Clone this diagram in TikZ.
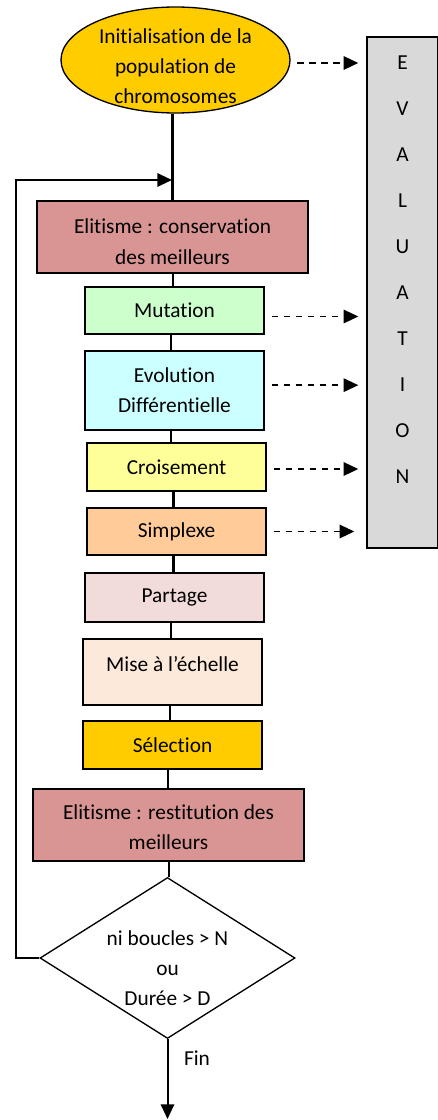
\documentclass[tikz,border=0pt]{standalone}
\usepackage{fontspec}
\setmainfont[Ligatures=NoCommon]{Carlito}
\usetikzlibrary{shapes.geometric,arrows.meta}

\definecolor{gold}{HTML}{FFCC00}
\definecolor{rosy}{HTML}{D99594}
\definecolor{mint}{HTML}{CCFFCC}
\definecolor{sky}{HTML}{CCFFFF}
\definecolor{lemon}{HTML}{FFFF99}
\definecolor{peach}{HTML}{FFCC99}
\definecolor{blush}{HTML}{F2DCDB}
\definecolor{cream}{HTML}{FDE9D9}
\definecolor{evalgray}{HTML}{D9D9D9}

\begin{document}
\begin{tikzpicture}[x=0.75pt,y=-0.75pt,
  font=\fontsize{16}{22.5}\selectfont,
  stepbox/.style={draw,line width=1.5pt,inner sep=0pt,align=center,fill=#1},
  thinshape/.style={draw,line width=1pt,inner sep=0pt,fill=#1},
  link/.style={line width=1.5pt},
  thicklink/.style={line width=2.25pt},
  tip/.style={-{Triangle[length=11pt,width=10pt]}},
  evalarrow/.style={tip,line width=1.4pt,dash pattern=on 5pt off 4pt,
    shorten <=5pt,shorten >=6pt},
  lbl/.style={align=center,inner sep=0pt}]

\useasboundingbox (0,0) rectangle (437,1120);

% evaluation column
\node[thinshape=evalgray,minimum width=53.25pt,minimum height=383.25pt,
  label={[lbl,font=\fontsize{16}{34.5}\selectfont,yshift=17.25pt]center:E\\V\\A\\L\\U\\A\\T\\I\\O\\N}]
  (eval) at (402.5,292.5) {};

% start
\node[thinshape=gold,ellipse,minimum width=171.75pt,minimum height=79.5pt,
  label={[lbl,yshift=-4.5pt]center:Initialisation de la\\population de\\chromosomes}]
  (init) at (175.5,60) {};

% operators
\node[stepbox=rosy,minimum width=203.25pt,minimum height=54pt,
  label={[lbl,yshift=-3.75pt,font=\fontsize{16}{23}\selectfont]center:Elitisme : conservation\\des meilleurs}]
  (elit1) at (172.5,237) {};
\node[stepbox=mint,minimum width=134.25pt,minimum height=35.25pt] (mut) at (174.5,310.5) {Mutation};
\node[stepbox=sky,minimum width=134.25pt,minimum height=59.25pt] (evo) at (174.5,390.5) {Evolution\\Différentielle};
\node[stepbox=lemon,minimum width=134.25pt,minimum height=36pt] (crois) at (176.5,467) {Croisement};
\node[stepbox=peach,minimum width=134.25pt,minimum height=35.25pt] (simp) at (176.5,531.5) {Simplexe};
\node[stepbox=blush,minimum width=134.25pt,minimum height=36.75pt] (part) at (174.5,597.5) {Partage};
\node[stepbox=cream,minimum width=134.25pt,minimum height=49.5pt,
  label={[lbl,yshift=5.6pt]center:Mise à l’échelle}] (mise) at (172.5,672) {};
\node[stepbox=gold,minimum width=134.25pt,minimum height=36pt] (sel) at (172.5,745) {Sélection};
\node[stepbox=rosy,minimum width=203.25pt,minimum height=54pt,
  label={[lbl,yshift=-1.5pt]center:Elitisme : restitution des\\meilleurs}]
  (elit2) at (168.5,825) {};

% stopping test
\node[thinshape=white,diamond,minimum width=191.25pt,minimum height=120.75pt,
  label={[lbl,yshift=-7.5pt]center:ni boucles > N\\ou\\Durée > D}]
  (dec) at (167.5,958) {};

% main chain
\draw[thicklink] (elit1.north |- init.south) -- (elit1.north);
\draw[link] (elit1.south) -- (elit1.south |- mut.north);
\draw[link] ([xshift=-2.6pt]mut.south) -- ([xshift=-2.6pt]mut.south |- evo.north);
\draw[link] ([xshift=-2.6pt]evo.south) -- ([xshift=-2.6pt]evo.south |- crois.north);
\draw[thicklink] ([xshift=-2.6pt]crois.south) -- ([xshift=-2.6pt]crois.south |- simp.north);
\draw[thicklink] ([xshift=-2.6pt]simp.south) -- ([xshift=-2.6pt]simp.south |- part.north);
\draw[link] ([xshift=-2.6pt]part.south) -- ([xshift=-2.6pt]part.south |- mise.north);
\draw[link] ([xshift=-1.9pt]mise.south) -- ([xshift=-1.9pt]mise.south |- sel.north);
\draw[link] ([xshift=-3.4pt]sel.south) -- ([xshift=-3.4pt]sel.south |- elit2.north);
\draw[link] (elit2.south) -- (elit2.south |- dec.north);

% loop back
\coordinate (back) at (16,958);
\coordinate (join) at (172,180);
\draw[link,tip] (dec.west) -- (back) |- (join);

% exit
\coordinate (out) at (166,1119);
\draw[link,tip] (dec.south) -- (dec.south |- out);
\node (fin) at (197,1058) {Fin};

% evaluation calls
\draw[evalarrow] ([yshift=-2.25pt]init.east) -- ([yshift=-2.25pt]init.east -| eval.west);
\draw[evalarrow] ([yshift=-4.5pt]mut.east) -- ([yshift=-4.5pt]mut.east -| eval.west);
\draw[evalarrow] ([yshift=4pt]evo.east) -- ([yshift=4pt]evo.east -| eval.west);
\draw[evalarrow] ([yshift=-1.5pt]crois.east) -- ([yshift=-1.5pt]crois.east -| eval.west);
\draw[evalarrow,shorten >=9pt] (simp.east) -- (simp.east -| eval.west);
\end{tikzpicture}
\end{document}
